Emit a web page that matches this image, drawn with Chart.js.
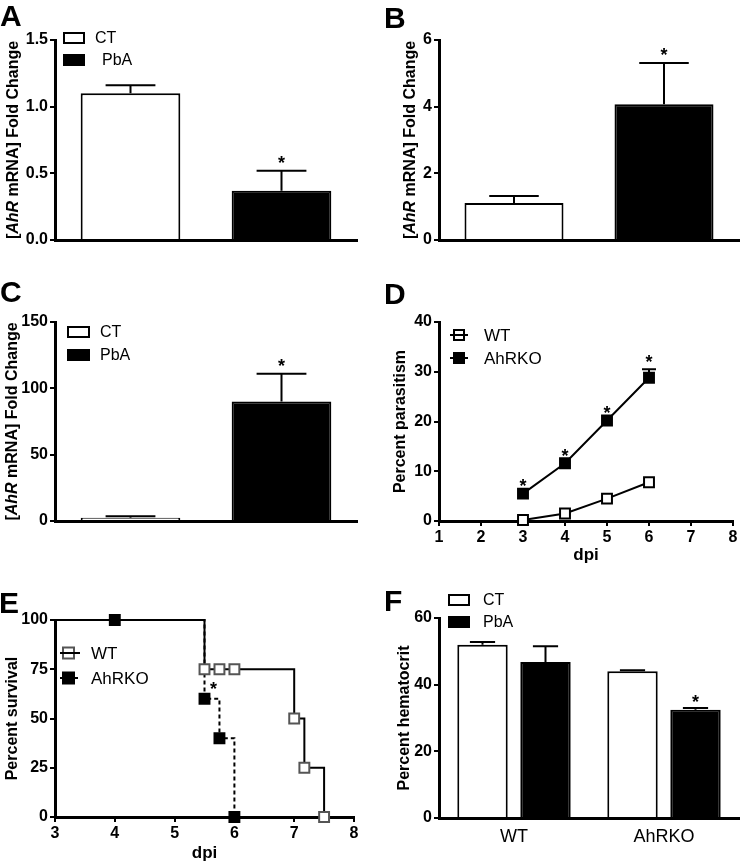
<!DOCTYPE html>
<html>
<head>
<meta charset="utf-8">
<script src="https://cdn.jsdelivr.net/npm/chart.js@4.4.1/dist/chart.umd.min.js"></script>
<style>
  html, body { margin: 0; padding: 0; background: #fff; }
  body { width: 742px; height: 862px; position: relative; overflow: hidden; font-family: "Liberation Sans", Arial, Helvetica, sans-serif; }
  canvas { position: absolute; }
  .lbl { position: absolute; font: bold 30px "Liberation Sans", Arial, Helvetica, sans-serif; line-height: 30px; color: #000; z-index: 2; }
</style>
</head>
<body>
<canvas id="cA" width="371" height="262" style="left:0;top:0"></canvas>
<canvas id="cB" width="371" height="262" style="left:371px;top:0"></canvas>
<canvas id="cC" width="371" height="270" style="left:0;top:270px"></canvas>
<canvas id="cD" width="371" height="300" style="left:371px;top:270px"></canvas>
<canvas id="cE" width="371" height="282" style="left:0;top:580px"></canvas>
<canvas id="cF" width="371" height="282" style="left:371px;top:580px"></canvas>
<div class="lbl" style="left:0;top:1px">A</div>
<div class="lbl" style="left:384px;top:3px">B</div>
<div class="lbl" style="left:0;top:277px">C</div>
<div class="lbl" style="left:384px;top:279px">D</div>
<div class="lbl" style="left:-1px;top:588px">E</div>
<div class="lbl" style="left:384px;top:586px">F</div>
<script>
// ---------------- data ----------------
const barGroups = ['CT', 'PbA'];

const aMean = [1.10, 0.37];
const aErr  = [1.16, 0.52];
const aStar = [false, true];

const bMean = [1.11, 4.07];
const bErr  = [1.32, 5.31];
const bStar = [false, true];

const cMean = [2.5, 90];
const cErr  = [3.5, 111];
const cStar = [false, true];

const dSeries = ['WT', 'AhRKO'];
const dDays = [3, 4, 5, 6];
const dWT   = [0.2, 1.5, 4.5, 7.8];
const dKO   = [5.5, 11.6, 20.2, 28.8];
const dKOErr = [null, null, null, 30.5];
const dKOStar = [true, true, true, true];

const eSeries = ['WT', 'AhRKO'];
const eWTx = [3, 5.5, 5.75, 6, 7, 7.17, 7.5];
const eWTy = [100, 75, 75, 75, 50, 25, 0];
const eWTmark = [false, true, true, true, true, true, true];
const eKOx = [3, 4, 5.5, 5.75, 6];
const eKOy = [100, 100, 60, 40, 0];
const eKOmark = [false, true, true, true, true];
const eStarAt = [5.65, 67];

const fGroups = ['WT', 'AhRKO'];
const fSeries = ['CT', 'PbA'];
const fCT     = [52.0, 44.0];
const fCTErr  = [52.8, 44.3];
const fPbA    = [46.8, 32.5];
const fPbAErr = [51.5, 33.0];
const fPbAStar = [false, true];

// ---------------- helpers ----------------
const FONT = '"Liberation Sans", Arial, Helvetica, sans-serif';
Chart.defaults.font.family = FONT;
Chart.defaults.color = '#000';

function drawStar(ctx, x, yc) {
  ctx.save();
  ctx.fillStyle = '#000';
  ctx.font = 'bold 18px ' + FONT;
  ctx.textAlign = 'center';
  ctx.textBaseline = 'alphabetic';
  ctx.fillText('*', x, yc + 0.58 * 18);
  ctx.restore();
}

const prism = {
  id: 'prism',
  afterDatasetsDraw(chart, args, o) {
    const ctx = chart.ctx;
    const ys = chart.scales.y, xs = chart.scales.x;
    chart.data.datasets.forEach((ds, di) => {
      const meta = chart.getDatasetMeta(di);
      meta.data.forEach((el, i) => {
        const e = ds.errTop ? ds.errTop[i] : null;
        let topPx = el.y;
        if (e != null) {
          const ye = ys.getPixelForValue(e);
          const half = el.width ? el.width / 4 : (ds.capHalf || 6);
          ctx.save();
          ctx.strokeStyle = '#000';
          ctx.lineWidth = 2;
          ctx.beginPath();
          ctx.moveTo(el.x, el.y);
          ctx.lineTo(el.x, ye);
          ctx.moveTo(el.x - half, ye);
          ctx.lineTo(el.x + half, ye);
          ctx.stroke();
          ctx.restore();
          topPx = Math.min(topPx, ye);
        }
        if (ds.stars && ds.stars[i]) {
          drawStar(ctx, el.x, topPx - (ds.starGap || 12));
        }
      });
    });
    if (o.starAt) {
      drawStar(ctx, xs.getPixelForValue(o.starAt[0]), ys.getPixelForValue(o.starAt[1]));
    }
  }
};

const ytitle = {
  id: 'ytitle',
  afterDraw(chart, args, o) {
    if (!o.parts) return;
    const ctx = chart.ctx, a = chart.chartArea;
    const size = o.size || 16;
    ctx.save();
    ctx.translate(o.x, (a.top + a.bottom) / 2);
    ctx.rotate(-Math.PI / 2);
    ctx.fillStyle = '#000';
    ctx.textBaseline = 'middle';
    ctx.textAlign = 'left';
    const fonts = o.parts.map(p => (p.i ? 'italic ' : '') + 'bold ' + size + 'px ' + FONT);
    let total = 0;
    o.parts.forEach((p, k) => { ctx.font = fonts[k]; total += ctx.measureText(p.t).width; });
    let x = -total / 2;
    o.parts.forEach((p, k) => { ctx.font = fonts[k]; ctx.fillText(p.t, x, 0); x += ctx.measureText(p.t).width; });
    ctx.restore();
  }
};

const xtitle = {
  id: 'xtitle',
  afterDraw(chart, args, o) {
    if (!o.text) return;
    const ctx = chart.ctx, a = chart.chartArea;
    ctx.save();
    ctx.fillStyle = '#000';
    ctx.font = 'bold ' + (o.size || 17) + 'px ' + FONT;
    ctx.textAlign = 'center';
    ctx.textBaseline = 'middle';
    ctx.fillText(o.text, (a.left + a.right) / 2, a.bottom + o.dy);
    ctx.restore();
  }
};

const legendPlug = {
  id: 'legendPlug',
  afterDraw(chart, args, o) {
    if (!o.items) return;
    const ctx = chart.ctx;
    ctx.save();
    o.items.forEach((it, k) => {
      const y = o.ys[k];
      ctx.lineWidth = 2;
      if (o.kind === 'box') {
        ctx.fillStyle = it.fill;
        ctx.fillRect(o.x, y - o.h / 2, o.w, o.h);
        ctx.strokeStyle = '#000';
        ctx.strokeRect(o.x + 1, y - o.h / 2 + 1, o.w - 2, o.h - 2);
      } else {
        const s = o.m;
        ctx.fillStyle = it.fill;
        ctx.fillRect(o.mx - s / 2, y - s / 2, s, s);
        ctx.strokeStyle = it.stroke || '#000';
        ctx.strokeRect(o.mx - s / 2, y - s / 2, s, s);
        ctx.strokeStyle = '#000';
        ctx.setLineDash(it.dash || []);
        ctx.beginPath();
        ctx.moveTo(o.x1, y);
        ctx.lineTo(o.x2, y);
        ctx.stroke();
        ctx.setLineDash([]);
      }
      ctx.fillStyle = '#000';
      ctx.font = (o.size || 16) + 'px ' + FONT;
      ctx.textBaseline = 'middle';
      ctx.textAlign = 'left';
      ctx.fillText(it.label, Array.isArray(o.tx) ? o.tx[k] : o.tx, y + 1);
    });
    ctx.restore();
  }
};

Chart.register(prism, ytitle, xtitle, legendPlug);

const tickFont = { size: 16, weight: 'bold' };

function yScale(min, max, step, width, fmt) {
  return {
    type: 'linear', position: 'left', min: min, max: max,
    ticks: { stepSize: step, color: '#000', padding: 2, font: tickFont, callback: fmt || (v => String(v)) },
    grid: { display: true, drawOnChartArea: false, drawTicks: true, tickLength: 5, tickColor: '#000', tickWidth: 2, lineWidth: 2 },
    border: { display: true, color: '#000', width: 3 },
    afterFit: s => { s.width = width; }
  };
}
function xCat(height, show) {
  return {
    type: 'category', position: 'bottom',
    ticks: { display: !!show, color: '#000', padding: 0, font: { size: 18, weight: 'normal' } },
    grid: { display: false },
    border: { display: true, color: '#000', width: 3 },
    afterFit: s => { s.height = height; }
  };
}
function xLin(min, max, height) {
  return {
    type: 'linear', position: 'bottom', min: min, max: max,
    ticks: { stepSize: 1, color: '#000', padding: 2, font: tickFont },
    grid: { display: true, drawOnChartArea: false, drawTicks: true, tickLength: 5, tickColor: '#000', tickWidth: 2, lineWidth: 2 },
    border: { display: true, color: '#000', width: 3 },
    afterFit: s => { s.height = height; }
  };
}
function opts(pad, scales, plug) {
  return {
    responsive: false, animation: false, devicePixelRatio: 1,
    layout: { padding: pad },
    scales: scales,
    plugins: Object.assign({ legend: { display: false }, tooltip: { enabled: false } }, plug)
  };
}
const ahrTitle = [{ t: '[', i: false }, { t: 'AhR', i: true }, { t: ' mRNA] Fold Change', i: false }];
const barFill = ['#ffffff', '#000000'];

function barChart(id, mean, err, star, pad, yW, xH, yMin, yMax, yStep, fmt, titleX, legend) {
  return new Chart(document.getElementById(id), {
    type: 'bar',
    data: {
      labels: barGroups,
      datasets: [{
        label: 'mRNA', data: mean, backgroundColor: barFill, borderColor: '#000', borderWidth: 2,
        borderSkipped: 'bottom', barPercentage: 0.66, categoryPercentage: 1,
        errTop: err, stars: star, starGap: 12
      }]
    },
    options: opts(pad, { x: xCat(xH, false), y: yScale(yMin, yMax, yStep, yW, fmt) }, {
      ytitle: { parts: ahrTitle, x: titleX, size: 16 },
      legendPlug: legend || {}
    })
  });
}

// A
barChart('cA', aMean, aErr, aStar, { top: 40, right: 14, left: 0, bottom: 0 }, 55, 22, 0, 1.5, 0.5,
  v => v.toFixed(1), 14,
  { kind: 'box', x: 63, w: 22, h: 12, ys: [38, 60], tx: [95, 102],
    items: barGroups.map((g, i) => ({ label: g, fill: barFill[i] })) });
// B
barChart('cB', bMean, bErr, bStar, { top: 40, right: 3, left: 0, bottom: 0 }, 68, 22, 0, 6, 2,
  null, 40, null);
// C
barChart('cC', cMean, cErr, cStar, { top: 52, right: 14, left: 0, bottom: 0 }, 55, 19, 0, 150, 50,
  null, 13,
  { kind: 'box', x: 67, w: 23, h: 12, ys: [62, 85], tx: 100,
    items: barGroups.map((g, i) => ({ label: g, fill: barFill[i] })) });

// D
new Chart(document.getElementById('cD'), {
  type: 'line',
  data: {
    datasets: [
      { label: dSeries[0], data: dDays.map((d, i) => ({ x: d, y: dWT[i] })),
        borderColor: '#000', borderWidth: 2, pointStyle: 'rect', pointRadius: 7,
        pointBackgroundColor: '#fff', pointBorderColor: '#000', pointBorderWidth: 2, clip: false },
      { label: dSeries[1], data: dDays.map((d, i) => ({ x: d, y: dKO[i] })),
        borderColor: '#000', borderWidth: 2, pointStyle: 'rect', pointRadius: 7,
        pointBackgroundColor: '#000', pointBorderColor: '#000', pointBorderWidth: 2, clip: false,
        errTop: dKOErr, capHalf: 7, stars: dKOStar, starGap: 12 }
    ]
  },
  options: opts({ top: 52, right: 4, left: 0, bottom: 0 },
    { x: xLin(1, 8, 49), y: yScale(0, 40, 10, 68) },
    { ytitle: { parts: [{ t: 'Percent parasitism', i: false }], x: 30, size: 16 },
      xtitle: { text: 'dpi', dy: 34, size: 17 },
      legendPlug: { kind: 'mark', x1: 79, x2: 97, mx: 88, m: 10, ys: [65, 88], tx: 113, size: 17,
        items: [{ label: dSeries[0], fill: '#fff' }, { label: dSeries[1], fill: '#000' }] } })
});

// E
new Chart(document.getElementById('cE'), {
  type: 'line',
  data: {
    datasets: [
      { label: eSeries[0], data: eWTx.map((x, i) => ({ x: x, y: eWTy[i] })), stepped: true,
        borderColor: '#000', borderWidth: 2, pointStyle: 'rect',
        pointRadius: eWTmark.map(m => m ? 7 : 0),
        pointBackgroundColor: '#fff', pointBorderColor: '#555', pointBorderWidth: 2, clip: false },
      { label: eSeries[1], data: eKOx.map((x, i) => ({ x: x, y: eKOy[i] })), stepped: true,
        borderColor: '#000', borderWidth: 2, borderDash: [4, 3], pointStyle: 'rect',
        pointRadius: eKOmark.map(m => m ? 7 : 0),
        pointBackgroundColor: '#000', pointBorderColor: '#000', pointBorderWidth: 2, clip: false }
    ]
  },
  options: opts({ top: 40, right: 17, left: 0, bottom: 0 },
    { x: xLin(3, 8, 45), y: yScale(0, 100, 25, 55) },
    { ytitle: { parts: [{ t: 'Percent survival', i: false }], x: 13, size: 16 },
      xtitle: { text: 'dpi', dy: 36, size: 17 },
      prism: { starAt: eStarAt },
      legendPlug: { kind: 'mark', x1: 60, x2: 80, mx: 68.5, m: 11, ys: [73, 98], tx: 91, size: 17,
        items: [{ label: eSeries[0], fill: '#fff', stroke: '#555' }, { label: eSeries[1], fill: '#000', dash: [3, 2] }] } })
});

// F
new Chart(document.getElementById('cF'), {
  type: 'bar',
  data: {
    labels: fGroups,
    datasets: [
      { label: fSeries[0], data: fCT, backgroundColor: '#fff', borderColor: '#000', borderWidth: 2,
        barPercentage: 0.8, categoryPercentage: 0.84, errTop: fCTErr },
      { label: fSeries[1], data: fPbA, backgroundColor: '#000', borderColor: '#000', borderWidth: 2,
        barPercentage: 0.8, categoryPercentage: 0.84, errTop: fPbAErr, stars: fPbAStar, starGap: 10 }
    ]
  },
  options: opts({ top: 38, right: 3, left: 0, bottom: 0 },
    { x: xCat(44, true), y: yScale(0, 60, 20, 68) },
    { ytitle: { parts: [{ t: 'Percent hematocrit', i: false }], x: 34, size: 16 },
      legendPlug: { kind: 'box', x: 77, w: 22, h: 12, ys: [20, 42], tx: 112,
        items: fSeries.map((s, i) => ({ label: s, fill: barFill[i] })) } })
});
</script>
</body>
</html>
